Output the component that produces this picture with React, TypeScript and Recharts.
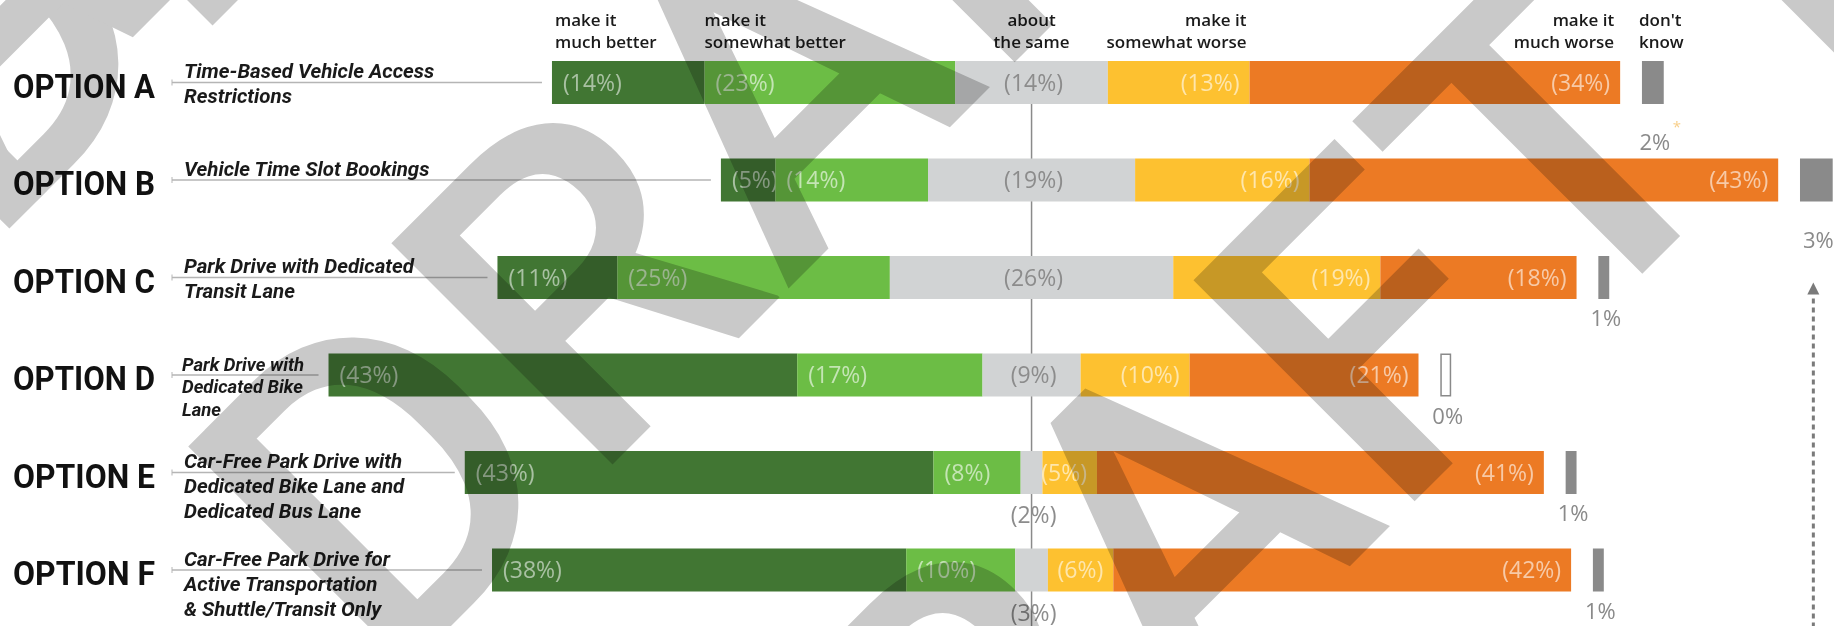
import React from 'react';
import { BarChart, Bar, XAxis, YAxis } from 'recharts';

// survey results, percent of respondents
const options = ['OPTION A', 'OPTION B', 'OPTION C', 'OPTION D', 'OPTION E', 'OPTION F'];
const descriptions = [
  ['Time-Based Vehicle Access', 'Restrictions'],
  ['Vehicle Time Slot Bookings'],
  ['Park Drive with Dedicated', 'Transit Lane'],
  ['Park Drive with', 'Dedicated Bike', 'Lane'],
  ['Car-Free Park Drive with', 'Dedicated Bike Lane and', 'Dedicated Bus Lane'],
  ['Car-Free Park Drive for', 'Active Transportation', '& Shuttle/Transit Only'],
];
const muchBetter = [14, 5, 11, 43, 43, 38];
const somewhatBetter = [23, 14, 25, 17, 8, 10];
const aboutSame = [14, 19, 26, 9, 2, 3];
const somewhatWorse = [13, 16, 19, 10, 5, 6];
const muchWorse = [34, 43, 18, 21, 41, 42];
const dontKnow = [2, 3, 1, 0, 1, 1];
const dontKnowNote = [true, true, false, false, false, false];

const headerMuchBetter = ['make it', 'much better'];
const headerSomewhatBetter = ['make it', 'somewhat better'];
const headerSame = ['about', 'the same'];
const headerSomewhatWorse = ['make it', 'somewhat worse'];
const headerMuchWorse = ['make it', 'much worse'];
const headerDontKnow = ["don't", 'know'];

// axis layout (percent units): where the neutral midpoint sits, gap before "don't know"
const CENTER = 94.64;
const DK_GAP = 2;
const X_MAX = 168.26;

const rows = options.map((name, i) => ({
  name,
  lead: CENTER - (muchBetter[i] + somewhatBetter[i] + aboutSame[i] / 2),
  mb: muchBetter[i],
  sb: somewhatBetter[i],
  same: aboutSame[i],
  sw: somewhatWorse[i],
  mw: muchWorse[i],
  gap: DK_GAP,
  dkBar: dontKnow[i] === 0 ? 1 : dontKnow[i],
  dk: dontKnow[i],
  note: dontKnowNote[i],
}));

const LABEL_FONT = "'Open Sans', sans-serif";

const Header = ({ lines, x, top, anchor }: any) => (
  <g>
    {lines.map((t: string, k: number) => (
      <text key={k} x={x} y={top - 35 + k * 22} textAnchor={anchor} fontFamily={LABEL_FONT}
        fontSize={17} fontWeight={600} fill="#1a1a1a">{t}</text>
    ))}
  </g>
);

const LeadShape = (props: any) => {
  const { x, y, width, height, index, payload } = props;
  const cy = y + height / 2;
  const desc = descriptions[index];
  const small = index === 3;
  const cx = x + (width * CENTER) / payload.lead;
  return (
    <g>
      {index === 0 && <line x1={cx} x2={cx} y1={y} y2={626} stroke="#8a8a8a" strokeWidth={1.5} />}
      <line x1={172} x2={x + width - 10} y1={cy} y2={cy} stroke="#b5b5b5" strokeWidth={1.5} />
      <line x1={172} x2={172} y1={cy - 3} y2={cy + 3} stroke="#b5b5b5" strokeWidth={1} />
      <text x={13} y={cy + 15} fontFamily="Roboto, sans-serif" fontWeight={700} fontSize={33}
        textLength={142} lengthAdjust="spacingAndGlyphs" fill="#111">{payload.name}</text>
      {desc.map((t, k) => (
        <text key={k} x={small ? 182 : 184} y={cy - 4.5 + k * (small ? 22.5 : 25)}
          fontFamily="Roboto, sans-serif" fontWeight={700} fontStyle="italic"
          fontSize={small ? 18.5 : 20.5} fill="#1a1a1a">{t}</text>
      ))}
    </g>
  );
};

const makeSegment = (key: string, color: string, align: string, header: string[], textFill: string) =>
  (props: any) => {
    const { x, y, width, height, index, payload } = props;
    const v = payload[key];
    const cy = y + height / 2;
    let label = null;
    if (align === 'left') {
      label = <text x={x + 11} y={cy + 8} fontFamily={LABEL_FONT} fontSize={23} fill={textFill}>{`(${v}%)`}</text>;
    } else if (align === 'right') {
      label = <text x={x + width - 10} y={cy + 8} textAnchor="end" fontFamily={LABEL_FONT} fontSize={23} fill={textFill}>{`(${v}%)`}</text>;
    } else {
      const below = v < 5;
      label = <text x={x + width / 2 + 2} y={below ? y + height + 29 : cy + 8} textAnchor="middle"
        fontFamily={LABEL_FONT} fontSize={23} fill="#8c8c8c">{`(${v}%)`}</text>;
    }
    let head = null;
    if (index === 0) {
      if (key === 'mb') head = <Header lines={header} x={x + 3} top={y} anchor="start" />;
      if (key === 'sb') head = <Header lines={header} x={x} top={y} anchor="start" />;
      if (key === 'same') head = <Header lines={header} x={x + width / 2} top={y} anchor="middle" />;
      if (key === 'sw') head = <Header lines={header} x={x + width - 3} top={y} anchor="end" />;
      if (key === 'mw') head = <Header lines={header} x={x + width - 6} top={y} anchor="end" />;
    }
    return (
      <g>
        <rect x={x} y={y} width={width} height={height} fill={color} />
        {label}
        {head}
      </g>
    );
  };

const GapShape = () => <g />;

const DkShape = (props: any) => {
  const { x, y, width, height, index, payload } = props;
  const lx = x + width / 2 + 2;
  const ly = payload.note ? y + height + 46 : y + height + 27;
  return (
    <g>
      {payload.dk === 0 ? (
        <rect x={x + 0.75} y={y + 0.75} width={width - 1.5} height={height - 1.5} fill="#fff" stroke="#8a8a8a" strokeWidth={1.5} />
      ) : (
        <rect x={x} y={y} width={width} height={height} fill="#8a8a8a" />
      )}
      <text x={lx} y={ly} textAnchor="middle" fontFamily={LABEL_FONT} fontSize={22} fill="#8a8a8a">{`${payload.dk}%`}</text>
      {payload.note && (
        <text x={lx + 18} y={ly - 18} fontFamily={LABEL_FONT} fontSize={15} fill="#f8cf8a">*</text>
      )}
      {index === 0 && <Header lines={headerDontKnow} x={x - 3} top={y} anchor="start" />}
      {index === 1 && (
        <g>
          <polygon points={`${x + width / 2 - 9},${y + height + 93} ${x + width / 2 - 3},${y + height + 81} ${x + width / 2 + 3},${y + height + 93}`} fill="#7a7a7a" />
          <line x1={x + width / 2 - 3} x2={x + width / 2 - 3} y1={y + height + 97} y2={626} stroke="#7a7a7a" strokeWidth={3} strokeDasharray="5 4" />
        </g>
      )}
    </g>
  );
};

// diagonal "DRAFT" stamp lines (origin of each line)
const stampOrigins = [[-13, 251], [387, 690], [787, 1129], [-430, 600]];

const Watermark = () => (
  <svg width={1834} height={626} style={{ position: 'absolute', left: 0, top: 0, mixBlendMode: 'multiply', pointerEvents: 'none' }}>
    <g fill="#c9c9c9" fontFamily="Roboto, sans-serif" fontWeight={500} fontSize={440}>
      {stampOrigins.map(([sx, sy], k) => (
        <text key={k} x={sx} y={sy} transform={`rotate(-45 ${sx} ${sy})`}>DRAFT DRAFT</text>
      ))}
    </g>
  </svg>
);

export default function App() {
  return (
    <div style={{ position: 'absolute', left: 0, top: 0, width: 1834, height: 626, background: '#fff', overflow: 'hidden' }}>
      <BarChart width={1834} height={626} data={rows} layout="vertical" barSize={43}
        margin={{ top: 34, right: 0, bottom: 7, left: 0 }}>
        <XAxis type="number" domain={[0, X_MAX]} allowDataOverflow hide />
        <YAxis type="category" dataKey="name" hide />
        <Bar dataKey="lead" stackId="s" fill="transparent" isAnimationActive={false} shape={LeadShape} />
        <Bar dataKey="mb" stackId="s" fill="#417633" isAnimationActive={false}
          shape={makeSegment('mb', '#417633', 'left', headerMuchBetter, 'rgba(255,255,255,0.55)')} />
        <Bar dataKey="sb" stackId="s" fill="#6cbd45" isAnimationActive={false}
          shape={makeSegment('sb', '#6cbd45', 'left', headerSomewhatBetter, 'rgba(255,255,255,0.6)')} />
        <Bar dataKey="same" stackId="s" fill="#d1d3d4" isAnimationActive={false}
          shape={makeSegment('same', '#d1d3d4', 'center', headerSame, '#8c8c8c')} />
        <Bar dataKey="sw" stackId="s" fill="#fdc130" isAnimationActive={false}
          shape={makeSegment('sw', '#fdc130', 'right', headerSomewhatWorse, 'rgba(255,255,255,0.6)')} />
        <Bar dataKey="mw" stackId="s" fill="#ec7a24" isAnimationActive={false}
          shape={makeSegment('mw', '#ec7a24', 'right', headerMuchWorse, 'rgba(255,255,255,0.6)')} />
        <Bar dataKey="gap" stackId="s" fill="transparent" isAnimationActive={false} shape={GapShape} />
        <Bar dataKey="dkBar" stackId="s" fill="#8a8a8a" isAnimationActive={false} shape={DkShape} />
      </BarChart>
      <Watermark />
    </div>
  );
}
